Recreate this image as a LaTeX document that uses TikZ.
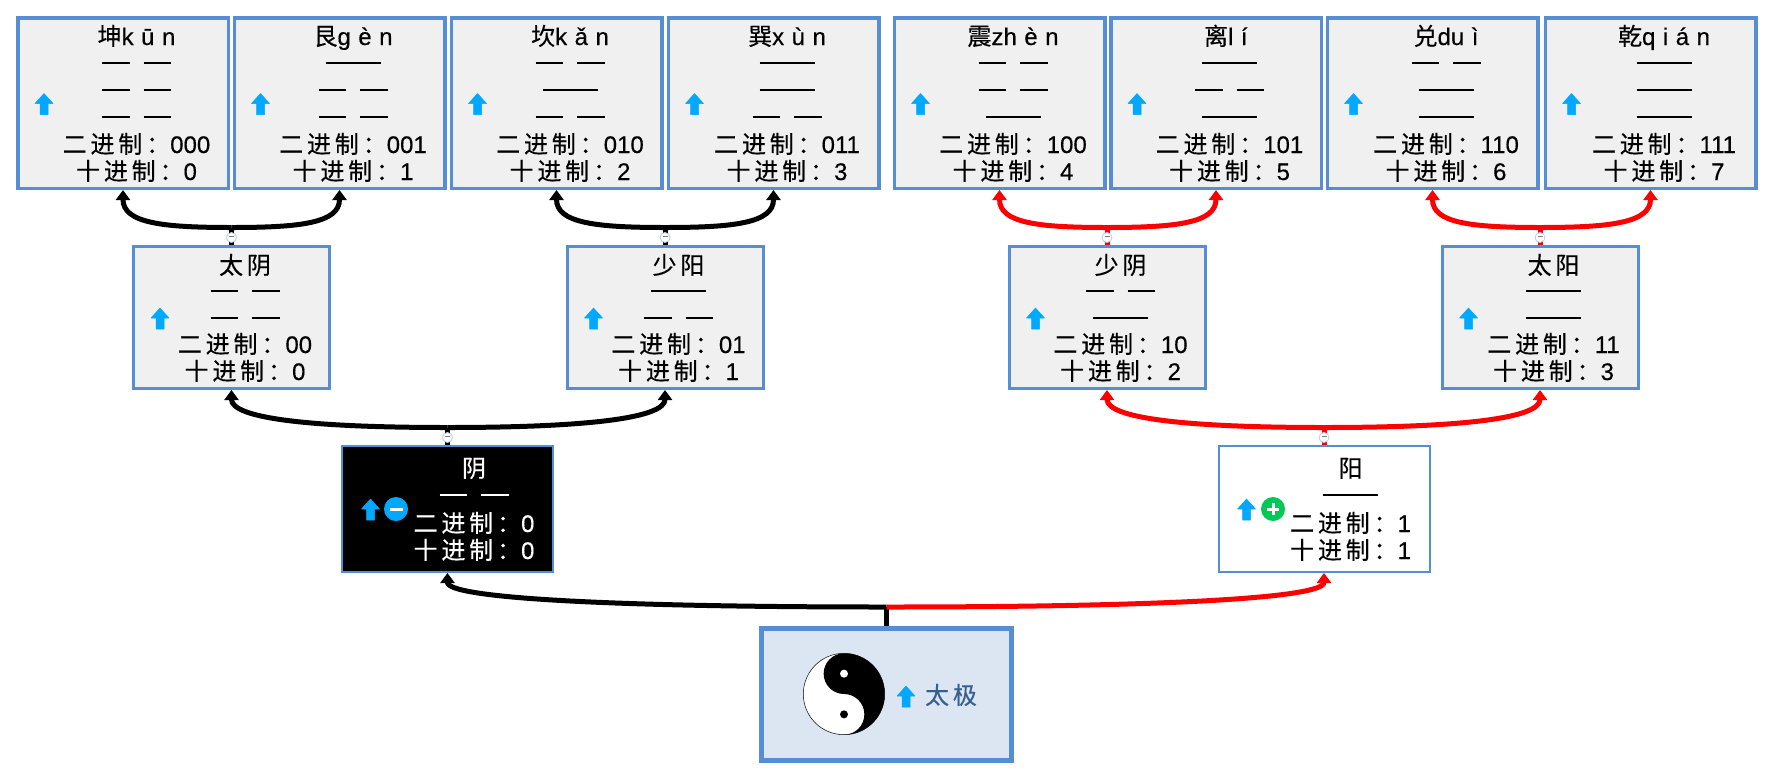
\documentclass[tikz,border=0pt]{standalone}
\usepackage{fontspec}
\setmainfont[FakeBold=0.35]{Liberation Sans}
\newfontfamily\cjk[LetterSpace=16,FakeBold=0.35]{Noto Sans CJK SC}
\usetikzlibrary{arrows.meta,calc}
\definecolor{boxblue}{HTML}{558ED5}
\definecolor{boxgray}{HTML}{F0F0F0}
\definecolor{rootfill}{HTML}{DCE6F2}
\definecolor{roottext}{HTML}{376092}
\definecolor{iconblue}{HTML}{00A9FF}
\definecolor{icongreen}{HTML}{00C957}
\definecolor{foldblue}{HTML}{B9CBEA}
\tikzset{
    topbox/.style={draw=boxblue, line width=3.5pt, fill=boxgray, inner sep=0pt, minimum width=210.5pt, minimum height=170.5pt},
    midbox/.style={draw=boxblue, line width=3pt, fill=boxgray, inner sep=0pt, minimum width=196pt, minimum height=142pt},
    lowbox/.style={draw=boxblue, line width=2pt, inner sep=0pt, minimum width=211pt, minimum height=126pt},
    rootbox/.style={draw=boxblue, line width=5pt, fill=rootfill, inner sep=0pt, minimum width=250pt, minimum height=132pt},
    guatext/.style={inner sep=0pt, text height=21pt, text depth=3pt, font=\fontsize{24}{28}\selectfont},
    yaoline/.style={line width=2pt},
    upicon/.style={fill=iconblue, draw=iconblue, line width=0.5pt, line join=round},
    signdot/.style={circle, inner sep=0pt, minimum size=24pt, text=white},
    fold/.style={circle, draw=foldblue, line width=0.8pt, fill=white, inner sep=0pt, minimum size=10pt, text=gray},
    blackfork/.style={line width=5pt, draw=black},
    redfork/.style={line width=5pt, draw=red},
    forktip/.style={-{Stealth[length=10pt, width=14pt, inset=0pt]}}
}
\newcommand{\pysp}{\kern7.5pt}
\newcommand{\upicon}[1]{\filldraw[upicon] #1 ++(0,-10.5) -- ++(9,10) -- ++(-5,0) -- ++(0,11) -- ++(-8,0) -- ++(0,-11) -- ++(-5,0) -- cycle;}
\newcommand{\guabox}[7]{
    \node[#2] (#1) at (#3,#4) {};
    \coordinate (#1c) at ($(#1.north)+(13.5,0)$);
    \node[guatext] (#1t) at ($(#1c)+(0,20)$) {#5};
    \node[guatext] (#1b) at ($(#1.south)+(13.5,-46)$) {{\cjk 二进制：}#6};
    \node[guatext] (#1d) at ($(#1.south)+(13.5,-19)$) {{\cjk 十进制：}#7};
    \upicon{($(#1.west)+(28,1)$)}
}
\newcommand{\yangyao}[2]{\draw[yaoline] ($(#1c)+(-27.5,#2)$) -- ($(#1c)+(27.5,#2)$);}
\newcommand{\yinyao}[2]{
    \draw[yaoline] ($(#1c)+(-34.5,#2)$) -- ($(#1c)+(-7,#2)$);
    \draw[yaoline] ($(#1c)+(7,#2)$) -- ($(#1c)+(34.5,#2)$);
}
\newcommand{\fork}[6]{
    \coordinate (#1j) at ($(#1.north)+(0,-17.5)$);
    \draw[#4] (#1.north) -- (#1j);
    \draw[#4, forktip] (#1j) .. controls +(-#5,0) and +(0,#6) .. (#2.south);
    \draw[#4, forktip] (#1j) .. controls +(#5,0) and +(0,#6) .. (#3.south);
    \node[fold] (#1m) at ($(#1.north)+(0,-7.5)$) {\rule[1.6pt]{5pt}{0.8pt}};
}
\begin{document}
\begin{tikzpicture}[x=1pt, y=-1pt]
    \useasboundingbox (0,0) rectangle (1774,780);

    \guabox{kun}{topbox}{123}{103}{{\cjk 坤}k\pysp ū\pysp n}{000}{0}
    \guabox{gen}{topbox}{339.5}{103}{{\cjk 艮}g\pysp è\pysp n}{001}{1}
    \guabox{kan}{topbox}{556.5}{103}{{\cjk 坎}k\pysp ǎ\pysp n}{010}{2}
    \guabox{xun}{topbox}{773.5}{103}{{\cjk 巽}x\pysp ù\pysp n}{011}{3}
    \guabox{zhen}{topbox}{999.5}{103}{{\cjk 震}zh\pysp è\pysp n}{100}{4}
    \guabox{li}{topbox}{1216}{103}{{\cjk 离}l\pysp í\pysp}{101}{5}
    \guabox{dui}{topbox}{1432.5}{103}{{\cjk 兑}du\pysp ì}{110}{6}
    \guabox{qian}{topbox}{1650.5}{103}{{\cjk 乾}q\pysp i\pysp á\pysp n}{111}{7}

    \yinyao{kun}{47}\yinyao{kun}{74}\yinyao{kun}{101}
    \yangyao{gen}{47}\yinyao{gen}{74}\yinyao{gen}{101}
    \yinyao{kan}{47}\yangyao{kan}{74}\yinyao{kan}{101}
    \yangyao{xun}{47}\yangyao{xun}{74}\yinyao{xun}{101}
    \yinyao{zhen}{47}\yinyao{zhen}{74}\yangyao{zhen}{101}
    \yangyao{li}{47}\yinyao{li}{74}\yangyao{li}{101}
    \yinyao{dui}{47}\yangyao{dui}{74}\yangyao{dui}{101}
    \yangyao{qian}{47}\yangyao{qian}{74}\yangyao{qian}{101}

    \guabox{taiyin}{midbox}{231.5}{317.5}{{\cjk 太阴}}{00}{0}
    \guabox{shaoyang}{midbox}{665}{317.5}{{\cjk 少阳}}{01}{1}
    \guabox{shaoyin}{midbox}{1107}{317.5}{{\cjk 少阴}}{10}{2}
    \guabox{taiyang}{midbox}{1540}{317.5}{{\cjk 太阳}}{11}{3}

    \yinyao{taiyin}{46}\yinyao{taiyin}{73}
    \yangyao{shaoyang}{46}\yinyao{shaoyang}{73}
    \yinyao{shaoyin}{46}\yangyao{shaoyin}{73}
    \yangyao{taiyang}{46}\yangyao{taiyang}{73}

    \node[lowbox, fill=black] (yin) at (447.5,509) {};
    \coordinate (yinc) at ($(yin.north)+(26.5,0)$);
    \node[guatext, text=white] (yint) at ($(yinc)+(0,23)$) {\cjk 阴};
    \node[guatext, text=white] (yinb) at ($(yin.south)+(26.5,-50)$) {{\cjk 二进制：}0};
    \node[guatext, text=white] (yind) at ($(yin.south)+(26.5,-23)$) {{\cjk 十进制：}0};
    \begin{scope}[white]
        \yinyao{yin}{50}
    \end{scope}
    \upicon{(370.5,509.5)}
    \node[signdot, fill=iconblue] (yinsign) at (396,509) {\rule{13pt}{3pt}};

    \node[lowbox] (yang) at (1324,509) {};
    \coordinate (yangc) at ($(yang.north)+(26.5,0)$);
    \node[guatext] (yangt) at ($(yangc)+(0,23)$) {\cjk 阳};
    \node[guatext] (yangb) at ($(yang.south)+(26.5,-50)$) {{\cjk 二进制：}1};
    \node[guatext] (yangd) at ($(yang.south)+(26.5,-23)$) {{\cjk 十进制：}1};
    \yangyao{yang}{50}
    \upicon{(1246.5,509.5)}
    \node[signdot, fill=icongreen] (yangsign) at (1273,509) {};
    \fill[white] (1267,507.5) rectangle (1279,510.5);
    \fill[white] (1271.5,503) rectangle (1274.5,515);

    \node[rootbox] (taiji) at (886.5,694.5) {};
    \upicon{(906,696.5)}
    \node[guatext, text=roottext] (taijit) at (951,695) {\cjk 太极};
    \begin{scope}[shift={(844,694)}, x=1pt, y=1pt]
        \filldraw[fill=white, draw=black, line width=0.5pt] (0,0) circle (40.7);
        \fill[black] (0,40.7) arc[start angle=90, end angle=-90, radius=40.7]
            arc[start angle=-90, end angle=90, radius=20.35]
            arc[start angle=-90, end angle=-270, radius=20.35] -- cycle;
        \fill[white] (0,20.35) circle (4);
        \fill[black] (0,-20.35) circle (4);
    \end{scope}

    \fork{taiyin}{kun}{gen}{blackfork}{69}{33}
    \fork{shaoyang}{kan}{xun}{blackfork}{69}{33}
    \fork{shaoyin}{zhen}{li}{redfork}{69}{33}
    \fork{taiyang}{dui}{qian}{redfork}{69}{33}
    \fork{yin}{taiyin}{shaoyang}{blackfork}{140}{28}
    \fork{yang}{shaoyin}{taiyang}{redfork}{140}{28}

    \coordinate (taijij) at ($(taiji.north)+(0,-19)$);
    \draw[blackfork] (taiji.north) -- (taijij);
    \draw[blackfork, forktip] (taijij) .. controls +(-280,0) and +(0,25) .. (yin.south);
    \draw[redfork, forktip] (taijij) .. controls +(280,0) and +(0,25) .. (yang.south);
\end{tikzpicture}
\end{document}
